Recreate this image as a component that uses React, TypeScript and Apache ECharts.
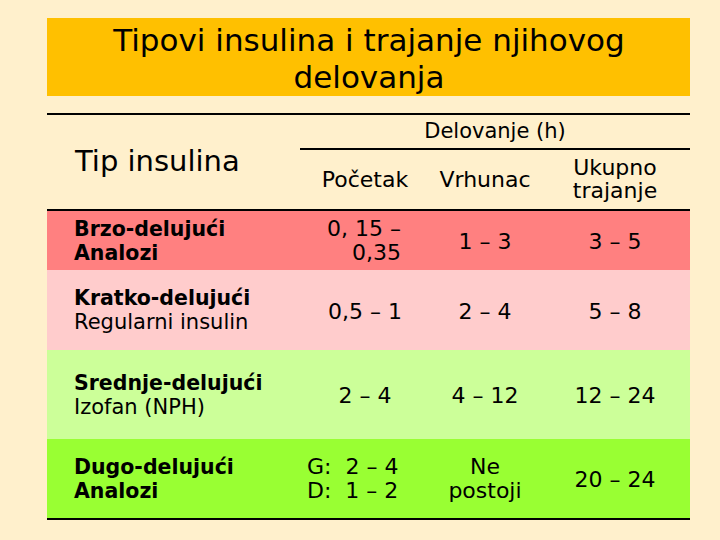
import React, { useEffect, useRef } from "react";
import * as echarts from "echarts";

const titleLines = ["Tipovi insulina i trajanje njihovog", "delovanja"];
const headerLeft = "Tip insulina";
const headerGroup = "Delovanje (h)";
const columnHeaders = [["Početak"], ["Vrhunac"], ["Ukupno", "trajanje"]];
const rowTitles = ["Brzo-delujući", "Kratko-delujući", "Srednje-delujući", "Dugo-delujući"];
const rowSubtitles = ["Analozi", "Regularni insulin", "Izofan (NPH)", "Analozi"];
const rowSubtitleBold = [true, false, false, true];
const onsetValues = [["0, 15 –", "0,35"], ["0,5 – 1"], ["2 – 4"], ["G:  2 – 4", "D:  1 – 2"]];
const peakValues = [["1 – 3"], ["2 – 4"], ["4 – 12"], ["Ne", "postoji"]];
const durationValues = [["3 – 5"], ["5 – 8"], ["12 – 24"], ["20 – 24"]];
const rowColors = ["#FF8080", "#FFCCCC", "#CCFF99", "#99FF33"];

const FONT = '"DejaVu Sans", Verdana, sans-serif';

export default function App() {
  const ref = useRef<HTMLDivElement>(null);
  useEffect(() => {
    if (!ref.current) return;
    const chart = echarts.init(ref.current, undefined, { renderer: "svg" });
    const L = 47, R = 690;
    const rowTops = [211, 270, 350, 439];
    const rowBottoms = [270, 350, 439, 518];
    const colX = [365, 485, 615];
    const g: any[] = [];
    g.push({ type: "rect", shape: { x: L, y: 18, width: R - L, height: 78 }, style: { fill: "#FFC000" } });
    titleLines.forEach((t, i) => {
      g.push({ type: "text", style: { text: t, x: 369, y: 40 + i * 37, textAlign: "center", textVerticalAlign: "middle", font: `31px ${FONT}`, fill: "#000" } });
    });
    rowColors.forEach((c, i) => {
      g.push({ type: "rect", shape: { x: L, y: rowTops[i], width: R - L, height: rowBottoms[i] - rowTops[i] }, style: { fill: c } });
    });
    g.push({ type: "line", shape: { x1: L, y1: 114, x2: R, y2: 114 }, style: { stroke: "#000", lineWidth: 2 } });
    g.push({ type: "line", shape: { x1: 300, y1: 149, x2: R, y2: 149 }, style: { stroke: "#000", lineWidth: 2 } });
    g.push({ type: "line", shape: { x1: L, y1: 210, x2: R, y2: 210 }, style: { stroke: "#000", lineWidth: 2 } });
    g.push({ type: "line", shape: { x1: L, y1: 519, x2: R, y2: 519 }, style: { stroke: "#000", lineWidth: 2 } });
    g.push({ type: "text", style: { text: headerLeft, x: 75, y: 161, textVerticalAlign: "middle", font: `29px ${FONT}`, fill: "#000" } });
    g.push({ type: "text", style: { text: headerGroup, x: 495, y: 131, textAlign: "center", textVerticalAlign: "middle", font: `21px ${FONT}`, fill: "#000" } });
    columnHeaders.forEach((lines, j) => {
      const ys = lines.length === 1 ? [179] : [167, 190];
      lines.forEach((t, k) => {
        g.push({ type: "text", style: { text: t, x: colX[j], y: ys[k], textAlign: "center", textVerticalAlign: "middle", font: `22px ${FONT}`, fill: "#000" } });
      });
    });
    rowTitles.forEach((t, i) => {
      const mid = (rowTops[i] + rowBottoms[i]) / 2;
      g.push({ type: "text", style: { text: t, x: 74, y: mid - 12, textVerticalAlign: "middle", font: `bold 20.5px ${FONT}`, fill: "#000" } });
      g.push({ type: "text", style: { text: rowSubtitles[i], x: 74, y: mid + 12, textVerticalAlign: "middle", font: `${rowSubtitleBold[i] ? "bold 20.5px" : "21px"} ${FONT}`, fill: "#000" } });
      const cols = [onsetValues[i], peakValues[i], durationValues[i]];
      cols.forEach((lines, j) => {
        const ys = lines.length === 1 ? [mid + 1] : [mid - 12, mid + 12];
        let align = "center", x = colX[j];
        if (j === 0 && i === 0) { align = "right"; x = 401; }
        if (j === 0 && i === 3) { align = "left"; x = 307; }
        lines.forEach((t, k) => {
          g.push({ type: "text", style: { text: t, x, y: ys[k], textAlign: align, textVerticalAlign: "middle", font: `22px ${FONT}`, fill: "#000" } });
        });
      });
    });
    chart.setOption({ animation: false, backgroundColor: "#FFF0CC", graphic: { elements: g } });
    return () => chart.dispose();
  }, []);
  return <div ref={ref} style={{ position: "fixed", left: 0, top: 0, width: 720, height: 540 }} />;
}
